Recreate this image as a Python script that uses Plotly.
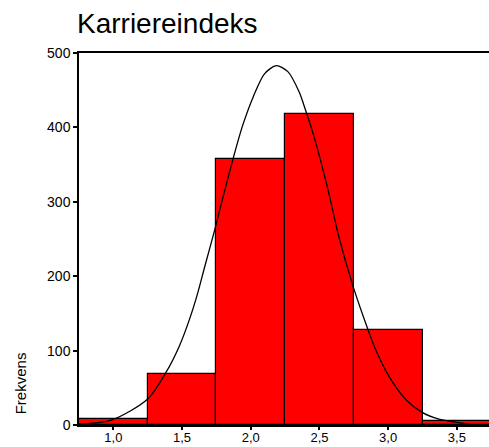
import plotly.graph_objects as go

# Histogram data (bin centers, bin width 0.5)
bin_centers = [1.0, 1.5, 2.0, 2.5, 3.0, 3.5]
frequencies = [8, 69, 358, 418, 128, 6]

# Normal curve overlay
curve_x = [0.75, 0.99, 1.25, 1.384, 1.48, 1.554, 1.615, 1.664, 1.746, 1.778, 1.87, 1.94,
           2.02, 2.10, 2.186, 2.27, 2.354, 2.39, 2.46, 2.56, 2.64, 2.737, 2.834, 2.907,
           3.004, 3.125, 3.247, 3.37, 3.59]
curve_y = [1, 7, 35, 71, 106, 142, 178, 212, 268, 292, 357, 402,
           442, 472, 483, 475, 447, 428, 388, 318, 254, 191, 138, 102,
           66, 35, 17, 8, 1.3]

x_ticks = [1.0, 1.5, 2.0, 2.5, 3.0, 3.5]
x_ticklabels = ["1,0", "1,5", "2,0", "2,5", "3,0", "3,5"]
y_ticks = [0, 100, 200, 300, 400, 500]

title_text = "Karriereindeks"
ytitle_text = "Frekvens"

FONT = "Liberation Sans, Arial, Helvetica, sans-serif"

fig = go.Figure()
fig.add_trace(go.Bar(
    x=bin_centers, y=frequencies, width=0.5,
    marker=dict(color="#FF0000", line=dict(color="#000000", width=1.2)),
    showlegend=False,
))
fig.add_trace(go.Scatter(
    x=curve_x, y=curve_y, mode="lines",
    line=dict(color="#000000", width=1.3, shape="spline", smoothing=0.8),
    showlegend=False,
))

fig.update_layout(
    width=489, height=447,
    margin=dict(l=79, r=0, t=53, b=22),
    paper_bgcolor="white", plot_bgcolor="white",
    font=dict(family=FONT, color="#000000"),
    bargap=0,
    xaxis=dict(
        range=[0.75, 3.734], tickvals=x_ticks, ticktext=x_ticklabels,
        showgrid=False, zeroline=False, automargin=False,
        showline=True, linecolor="#000000", linewidth=1.5, mirror=True,
        ticks="outside", ticklen=3, tickwidth=2, tickcolor="#000000",
        ticklabelstandoff=-3,
        tickfont=dict(size=13, family=FONT),
    ),
    yaxis=dict(
        range=[0, 500], tickvals=y_ticks,
        showgrid=False, zeroline=False, automargin=False,
        showline=True, linecolor="#000000", linewidth=1.5,
        ticks="outside", ticklen=4, tickwidth=2, tickcolor="#000000",
        tickfont=dict(size=14, family=FONT),
    ),
    annotations=[
        dict(text=title_text, xref="paper", yref="paper", x=-0.01, y=1.08,
             xanchor="left", yanchor="middle", showarrow=False,
             font=dict(size=28, family=FONT)),
        dict(text=ytitle_text, xref="paper", yref="paper", x=-0.144, y=0.112,
             xanchor="center", yanchor="middle", textangle=-90, showarrow=False,
             font=dict(size=15, family=FONT)),
    ],
)

fig.write_html(
    "out.html",
    config={"displayModeBar": False},
    post_script="document.body.style.margin='0px';document.body.style.overflow='hidden';",
)
